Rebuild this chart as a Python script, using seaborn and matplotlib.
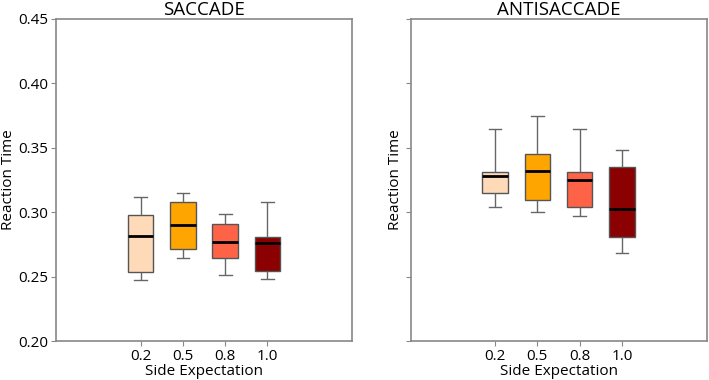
import numpy as np
import pandas as pd
import matplotlib
matplotlib.use("Agg")
import matplotlib.pyplot as plt
import seaborn as sns

# side expectation levels
levels = ["0.2", "0.5", "0.8", "1.0"]
colors = ["#ffdab9", "#ffa500", "#ff6347", "#8b0000"]

# five-number summaries: low whisker, Q1, median, Q3, high whisker
saccade = {
    "0.2": [0.2474, 0.2538, 0.2818, 0.2978, 0.3118],
    "0.5": [0.2644, 0.2712, 0.2898, 0.3079, 0.3147],
    "0.8": [0.2512, 0.2647, 0.2766, 0.2906, 0.2984],
    "1.0": [0.2481, 0.2546, 0.2763, 0.2807, 0.3082],
}
antisaccade = {
    "0.2": [0.3043, 0.3147, 0.3279, 0.3314, 0.3644],
    "0.5": [0.2999, 0.3095, 0.3322, 0.3452, 0.3744],
    "0.8": [0.2973, 0.3043, 0.3252, 0.3312, 0.3648],
    "1.0": [0.2683, 0.2807, 0.3027, 0.3351, 0.3480],
}


def to_long(d):
    rows = []
    for lev in levels:
        for v in d[lev]:
            rows.append({"Side Expectation": lev, "Reaction Time": v})
    return pd.DataFrame(rows)


plt.rcParams["font.family"] = ["Open Sans", "DejaVu Sans"]
fig = plt.figure(figsize=(7.09, 3.8), dpi=100)
ax1 = fig.add_axes([0.079, 0.1026, 0.4175, 0.8474])
ax2 = fig.add_axes([0.579, 0.1026, 0.4175, 0.8474], sharey=ax1)

for ax, data, title in [(ax1, saccade, "SACCADE"), (ax2, antisaccade, "ANTISACCADE")]:
    df = to_long(data)
    sns.boxplot(data=df, x="Side Expectation", y="Reaction Time", hue="Side Expectation",
                order=levels, hue_order=levels, palette=colors, legend=False,
                saturation=1, whis=(0, 100), width=0.6, linecolor="#555555", linewidth=1.0,
                medianprops={"color": "black", "linewidth": 2},
                whiskerprops={"color": "#666666"}, capprops={"color": "#666666"},
                ax=ax)
    ax.set_xlim(-2.0, 5.0)
    ax.set_ylim(0.2, 0.45)
    ax.set_yticks([0.20, 0.25, 0.30, 0.35, 0.40, 0.45])
    ax.set_title(title, fontsize=13.5, pad=2)
    ax.set_xlabel("Side Expectation", fontsize=11, labelpad=0)
    ax.set_ylabel("Reaction Time", fontsize=11, labelpad=2)
    ax.tick_params(labelsize=11, color="#888888", length=3.5, pad=2)
    for s in ax.spines.values():
        s.set_color("#888888")
        s.set_linewidth(1.2)

ax1.yaxis.set_major_formatter(matplotlib.ticker.FormatStrFormatter("%.2f"))
ax2.tick_params(labelleft=False)

fig.savefig("out.png", dpi=100)
